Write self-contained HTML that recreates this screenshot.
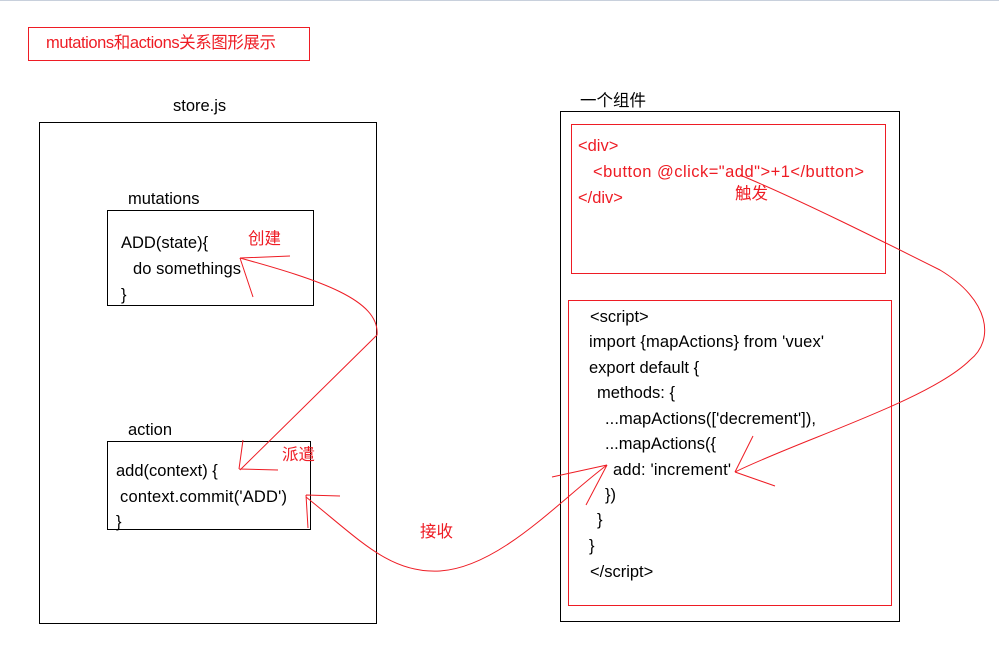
<!DOCTYPE html>
<html><head><meta charset="utf-8"><style>
html,body{margin:0;padding:0;background:#fff;width:999px;height:649px;overflow:hidden}
svg text{font-family:"Liberation Sans","Noto Sans CJK SC",sans-serif;font-size:16.5px}
.k{fill:#000}.r{fill:#ee1c24}
</style></head><body>
<svg width="999" height="649" xmlns="http://www.w3.org/2000/svg">
<line x1="0" y1="0.5" x2="999" y2="0.5" stroke="#c8d0dc"/>
<rect x="28.5" y="27.5" width="281" height="33" fill="none" stroke="#ee1c24"/>
<text class="r" x="46" y="48" textLength="230">mutations和actions关系图形展示</text>

<text class="k" x="173" y="111">store.js</text>
<rect x="39.5" y="122.5" width="337" height="501" fill="none" stroke="#000"/>
<text class="k" x="128" y="204">mutations</text>
<rect x="107.5" y="210.5" width="206" height="95" fill="none" stroke="#000"/>
<text class="k" x="121" y="248">ADD(state){</text>
<text class="k" x="133" y="274" textLength="108">do somethings</text>
<text class="k" x="121" y="300">}</text>
<text class="r" x="248" y="244">创建</text>

<text class="k" x="128" y="435">action</text>
<rect x="107.5" y="441.5" width="203" height="88" fill="none" stroke="#000"/>
<text class="k" x="116" y="476">add(context) {</text>
<text class="k" x="120" y="502" textLength="167">context.commit('ADD')</text>
<text class="k" x="116" y="527">}</text>
<text class="r" x="282" y="460">派遣</text>
<text class="r" x="420" y="537">接收</text>

<text class="k" x="580" y="106">一个组件</text>
<rect x="560.5" y="111.5" width="339" height="510" fill="none" stroke="#000"/>
<rect x="571.5" y="124.5" width="314" height="149" fill="none" stroke="#ee1c24"/>
<text class="r" x="578" y="151">&lt;div&gt;</text>
<text class="r" x="593" y="177" textLength="271">&lt;button @click="add"&gt;+1&lt;/button&gt;</text>
<text class="r" x="578" y="203">&lt;/div&gt;</text>
<text class="r" x="735" y="199">触发</text>
<rect x="568.5" y="300.5" width="323" height="305" fill="none" stroke="#ee1c24"/>
<text class="k" x="590" y="322">&lt;script&gt;</text>
<text class="k" x="589" y="347" textLength="235">import {mapActions} from 'vuex'</text>
<text class="k" x="589" y="373">export default {</text>
<text class="k" x="597" y="398">methods: {</text>
<text class="k" x="605" y="424" textLength="211">...mapActions(['decrement']),</text>
<text class="k" x="605" y="449">...mapActions({</text>
<text class="k" x="613" y="475" textLength="118">add: 'increment'</text>
<text class="k" x="605" y="500">})</text>
<text class="k" x="597" y="525">}</text>
<text class="k" x="589" y="551">}</text>
<text class="k" x="590" y="577">&lt;/script&gt;</text>

<g fill="none" stroke="#ee1c24" stroke-width="1">
<path d="M240,258 C320,280 380,300 377,335 L240,470"/>
<path d="M240,258 L290,256 M240,258 L253,297"/>
<path d="M239,469 L278,470 M239,469 L243,440"/>
<path d="M306,497 C360,540 390,574 440,571 C500,567 560,500 607,465"/>
<path d="M306,495 L340,496 M306,495 L308,528"/>
<path d="M607,465 L552,477 M607,465 L586,505"/>
<path d="M740,175 C800,200 880,240 940,270 C990,300 995,340 970,360 C930,400 800,440 735,472"/>
<path d="M735,472 L775,486 M735,472 L753,436"/>
</g>
</svg>
</body></html>
